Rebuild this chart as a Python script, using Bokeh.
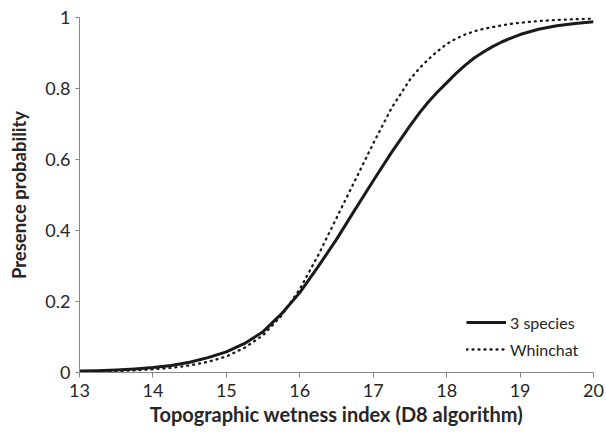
from bokeh.plotting import figure
from bokeh.models import Range1d, FixedTicker, Legend, LegendItem
from bokeh.embed import file_html
from bokeh.resources import INLINE

# Data
twi = [13.00, 13.25, 13.50, 13.75, 14.00, 14.25, 14.50, 14.75, 15.00, 15.25,
       15.50, 15.75, 16.00, 16.25, 16.50, 16.75, 17.00, 17.25, 17.50, 17.625,
       17.75, 17.875, 18.00, 18.125, 18.25, 18.375, 18.50, 18.625, 18.75, 18.875,
       19.00, 19.25, 19.50, 19.75, 20.00]
three_species = [0.004, 0.005, 0.007, 0.010, 0.014, 0.020, 0.029, 0.042, 0.058, 0.082,
                 0.115, 0.165, 0.225, 0.298, 0.375, 0.458, 0.540, 0.620, 0.695, 0.730,
                 0.762, 0.790, 0.816, 0.842, 0.865, 0.886, 0.903, 0.918, 0.931, 0.942,
                 0.952, 0.967, 0.977, 0.983, 0.988]
whinchat = [0.002, 0.003, 0.004, 0.006, 0.009, 0.013, 0.020, 0.030, 0.045, 0.070,
            0.105, 0.160, 0.235, 0.330, 0.435, 0.540, 0.645, 0.745, 0.825, 0.856,
            0.882, 0.905, 0.925, 0.940, 0.952, 0.961, 0.968, 0.973, 0.978, 0.982,
            0.985, 0.990, 0.993, 0.995, 0.997]
x_ticks = [13, 14, 15, 16, 17, 18, 19, 20]
y_ticks = [0, 0.2, 0.4, 0.6, 0.8, 1]
y_labels = {0: "0", 0.2: "0.2", 0.4: "0.4", 0.6: "0.6", 0.8: "0.8", 1: "1"}

FONT = "Lato"
TXT = "#262626"
AX = "#868686"

p = figure(width=606, height=439, output_backend="svg", toolbar_location=None,
           x_range=Range1d(13, 20), y_range=Range1d(0, 1),
           min_border_left=79, min_border_right=13, min_border_top=17, min_border_bottom=67)
p.outline_line_color = None
p.xgrid.grid_line_color = None
p.ygrid.grid_line_color = None

p.xaxis.ticker = FixedTicker(ticks=x_ticks)
p.yaxis.ticker = FixedTicker(ticks=y_ticks)
p.yaxis.major_label_overrides = y_labels
for ax in (p.xaxis, p.yaxis):
    ax.axis_line_color = AX
    ax.major_tick_line_color = AX
    ax.minor_tick_line_color = None
    ax.major_tick_in = 0
    ax.major_label_text_font = FONT
    ax.major_label_text_font_size = "18px"
    ax.major_label_text_color = TXT
    ax.axis_label_text_font = FONT
    ax.axis_label_text_font_style = "bold"
    ax.axis_label_text_color = TXT
p.xaxis.major_tick_out = 5
p.yaxis.major_tick_out = 4
p.xaxis.axis_label = "Topographic wetness index (D8 algorithm)"
p.yaxis.axis_label = "Presence probability"
p.xaxis.axis_label_text_font_size = "20px"
p.yaxis.axis_label_text_font_size = "18.5px"
p.xaxis.major_label_standoff = 6
p.yaxis.major_label_standoff = 5
p.xaxis.axis_label_standoff = 2
p.yaxis.axis_label_standoff = 12

r1 = p.line(twi, three_species, line_color="#1a1a1a", line_width=3, line_join="round")
r2 = p.line(twi, whinchat, line_color="#1a1a1a", line_width=2.3, line_dash="1 5",
            line_cap="round")

legend = Legend(items=[LegendItem(label="3 species", renderers=[r1]),
                       LegendItem(label="Whinchat", renderers=[r2])],
                location=(387, 13))
legend.background_fill_alpha = 0
legend.border_line_color = None
legend.label_text_font = FONT
legend.label_text_font_size = "16px"
legend.label_text_color = TXT
legend.glyph_width = 40
legend.label_standoff = 4
legend.spacing = 7
legend.label_height = 20
legend.glyph_height = 20
p.add_layout(legend)

open("out.html", "w").write(file_html(p, INLINE))
